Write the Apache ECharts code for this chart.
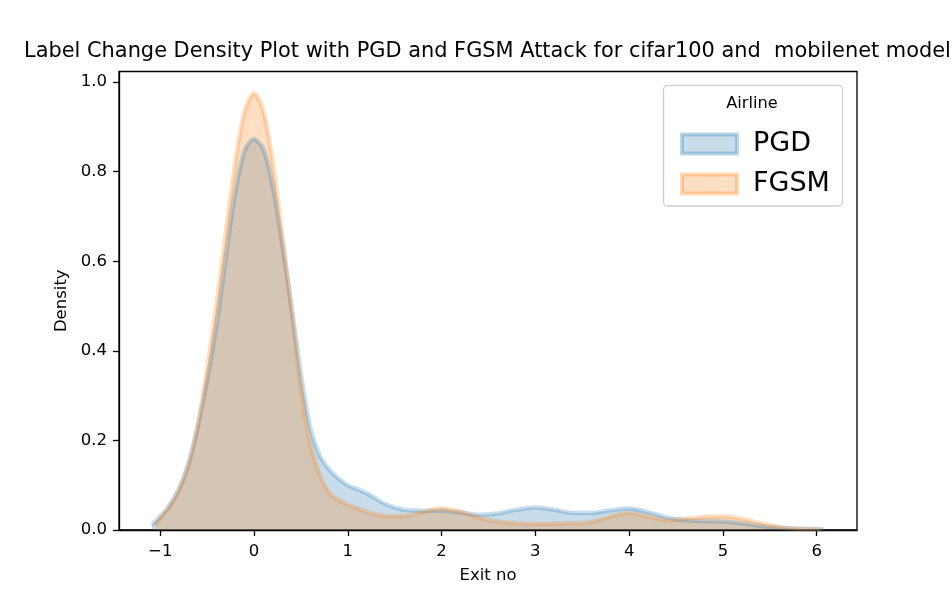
<!DOCTYPE html>
<html><head><meta charset="utf-8">
<script src="https://cdn.jsdelivr.net/npm/echarts@6/dist/echarts.min.js"></script>
<style>html,body{margin:0;padding:0;background:#fff}#c{width:952px;height:596px}</style>
</head><body><div id="c"></div>
<script>
const titleText = 'Label Change Density Plot with PGD and FGSM Attack for cifar100 and  mobilenet model';
const seriesNames = ['PGD', 'FGSM'];
const legendTitle = 'Airline';
const xName = 'Exit no';
const yName = 'Density';
const xTicks = [-1, 0, 1, 2, 3, 4, 5, 6];
const yTicks = [0, 0.2, 0.4, 0.6, 0.8, 1.0];

const pgdX = [-1.09,-1.0,-0.9,-0.8,-0.7,-0.6,-0.5,-0.4,-0.3,-0.2,-0.1,0,0.1,0.2,0.3,0.4,0.5,0.6,0.7,0.8,0.9,1.0,1.2,1.4,1.6,1.8,2.0,2.2,2.4,2.6,2.8,3.0,3.2,3.4,3.6,3.8,4.0,4.2,4.4,4.6,4.8,5.0,5.2,5.4,5.6,5.8,6.0,6.08];
const pgdY = [0.011,0.030,0.056,0.092,0.148,0.232,0.335,0.458,0.610,0.755,0.848,0.873,0.850,0.768,0.640,0.498,0.348,0.228,0.166,0.135,0.115,0.100,0.082,0.058,0.045,0.043,0.043,0.039,0.034,0.037,0.045,0.050,0.045,0.038,0.038,0.044,0.048,0.040,0.028,0.022,0.020,0.019,0.015,0.009,0.005,0.003,0.002,0.001];

const fgsmX = [-1.05,-1.0,-0.9,-0.8,-0.7,-0.6,-0.5,-0.4,-0.3,-0.2,-0.1,0,0.1,0.2,0.3,0.4,0.5,0.6,0.7,0.8,0.9,1.0,1.2,1.4,1.6,1.8,2.0,2.2,2.4,2.6,2.8,3.0,3.2,3.4,3.6,3.8,4.0,4.2,4.4,4.6,4.8,5.0,5.2,5.4,5.6,5.8,6.0,6.05];
const fgsmY = [0.012,0.026,0.052,0.088,0.143,0.232,0.360,0.505,0.665,0.820,0.935,0.975,0.935,0.820,0.660,0.490,0.315,0.192,0.124,0.084,0.067,0.057,0.041,0.031,0.031,0.040,0.048,0.041,0.027,0.019,0.015,0.014,0.014,0.015,0.018,0.030,0.038,0.030,0.022,0.025,0.029,0.030,0.025,0.015,0.007,0.003,0.0015,0.001];

const FONT = 'DejaVu Sans';
const blue = '31,119,180', orange = '255,127,14';
function pairs(xs, ys) { return xs.map((x, i) => [x, ys[i]]); }
function mkSeries(name, xs, ys, rgb) {
  return {
    name: name, type: 'line', smooth: 0.3, symbol: 'none',
    data: pairs(xs, ys),
    lineStyle: { color: 'rgba(' + rgb + ',0.25)', width: 4.5 },
    itemStyle: { color: 'rgba(' + rgb + ',0.25)' },
    areaStyle: { color: 'rgba(' + rgb + ',0.25)', opacity: 1 },
    emphasis: { disabled: true }
  };
}
const chart = echarts.init(document.getElementById('c'), null, { renderer: 'canvas' });
chart.setOption({
  animation: false,
  backgroundColor: '#fff',
  textStyle: { fontFamily: FONT },
  title: {
    text: titleText, left: 24, top: 41, padding: 0,
    textStyle: { fontFamily: FONT, fontSize: 20.9, fontWeight: 'normal', color: '#000' }
  },
  grid: { left: 119, right: 95, top: 71.5, bottom: 66, show: true, borderColor: '#000', borderWidth: 1.3, backgroundColor: 'transparent' },
  xAxis: {
    type: 'value', min: -1.44, max: 6.43,
    name: xName, nameLocation: 'middle', nameGap: 37,
    nameTextStyle: { fontFamily: FONT, fontSize: 16.5, color: '#000' },
    axisLine: { show: true, onZero: false, lineStyle: { color: '#000', width: 1.3 } },
    axisTick: { show: true, length: 6, lineStyle: { color: '#000', width: 1.3 }, customValues: xTicks },
    axisLabel: { customValues: xTicks, margin: 13, fontFamily: FONT, fontSize: 16.5, color: '#000',
      formatter: v => String(v).replace('-', '\u2212') },
    splitLine: { show: false }
  },
  yAxis: {
    type: 'value', min: 0, max: 1.0237,
    name: yName, nameLocation: 'middle', nameGap: 45,
    nameTextStyle: { fontFamily: FONT, fontSize: 16.5, color: '#000' },
    axisLine: { show: true, onZero: false, lineStyle: { color: '#000', width: 1.3 } },
    axisTick: { show: true, length: 6, lineStyle: { color: '#000', width: 1.3 }, customValues: yTicks },
    axisLabel: { customValues: yTicks, margin: 12, fontFamily: FONT, fontSize: 16.5, color: '#000',
      formatter: v => v.toFixed(1) },
    splitLine: { show: false }
  },
  legend: {
    orient: 'vertical', left: 675, top: 125, z: 10,
    itemWidth: 55, itemHeight: 19, itemGap: 12, selectedMode: false,
    textStyle: { fontFamily: FONT, fontSize: 27, color: '#000', lineHeight: 28, padding: [0, 0, 0, 11] },
    data: [
      { name: seriesNames[0], icon: 'rect', itemStyle: { color: 'rgba(' + blue + ',0.25)', borderColor: 'rgba(' + blue + ',0.3)', borderWidth: 4 } },
      { name: seriesNames[1], icon: 'rect', itemStyle: { color: 'rgba(' + orange + ',0.25)', borderColor: 'rgba(' + orange + ',0.3)', borderWidth: 4 } }
    ]
  },
  graphic: [
    { type: 'rect', z: 5, shape: { x: 663.5, y: 85.5, width: 179, height: 120.5, r: 4 },
      style: { fill: 'rgba(255,255,255,0.8)', stroke: '#d0d0d0', lineWidth: 1.3 } },
    { type: 'text', z: 11, x: 752, y: 103.5,
      style: { text: legendTitle, fontFamily: FONT, fontSize: 16.2, fill: '#000', align: 'center', verticalAlign: 'middle' } }
  ],
  series: [
    mkSeries(seriesNames[0], pgdX, pgdY, blue),
    mkSeries(seriesNames[1], fgsmX, fgsmY, orange)
  ]
});
</script>
</body></html>
